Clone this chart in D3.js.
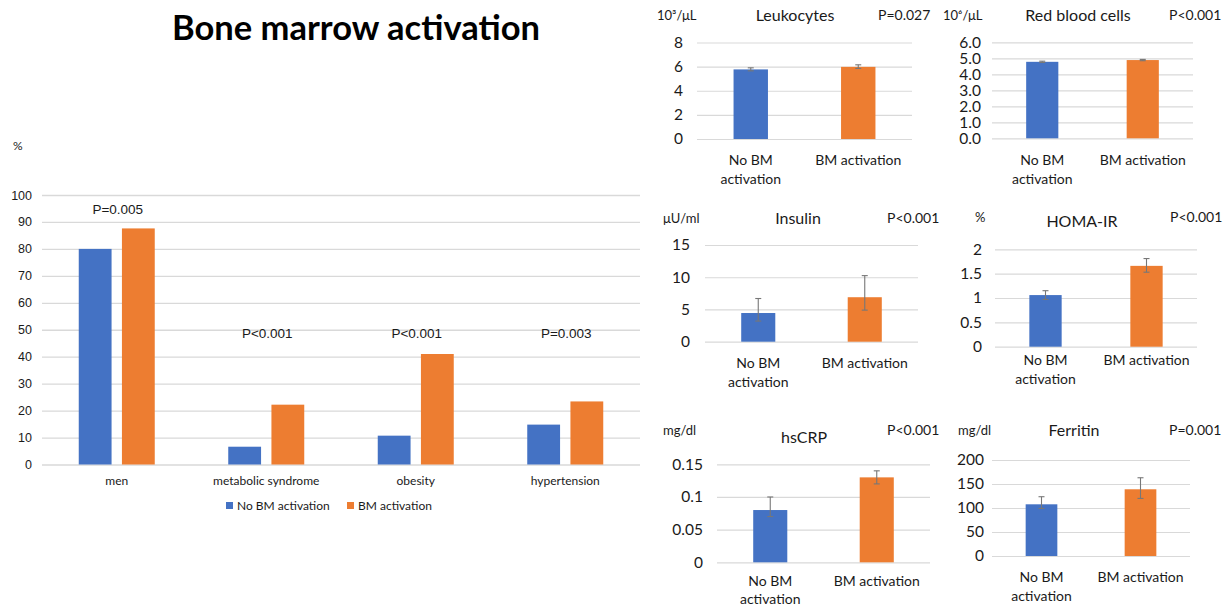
<!DOCTYPE html>
<html>
<head>
<meta charset="utf-8">
<script src="https://cdn.jsdelivr.net/npm/d3@7"></script>
<style>
  body { margin: 0; background: #fff; }
  text { font-family: Lato, "Open Sans", sans-serif; fill: #1a1a1a; }
</style>
</head>
<body>
<svg id="chart" width="1230" height="606"></svg>
<script>
// ---- data ----
var groups = ["No BM activation", "BM activation"];
var colors = ["#4472C4", "#ED7D31"];

// left chart: prevalence (%)
var mainCategories = ["men", "metabolic syndrome", "obesity", "hypertension"];
var mainNoBM = [80, 6.6, 10.7, 14.8];
var mainBM = [87.6, 22.2, 41, 23.4];
var mainPValues = ["P=0.005", "P<0.001", "P<0.001", "P=0.003"];
var mainTicks = [0, 10, 20, 30, 40, 50, 60, 70, 80, 90, 100];

// small panels
var panelTitles = ["Leukocytes", "Red blood cells", "Insulin", "HOMA-IR", "hsCRP", "Ferritin"];
var panelUnits = ["10³/μL", "10⁶/μL", "μU/ml", "%", "mg/dl", "mg/dl"];
var panelP = ["P=0.027", "P<0.001", "P<0.001", "P<0.001", "P<0.001", "P=0.001"];
var panelNoBM = [5.77, 4.78, 4.45, 1.06, 0.08, 107.7];
var panelBM = [5.98, 4.89, 6.9, 1.66, 0.13, 139];
var panelNoBMLow = [5.65, 4.74, 3.2, 0.97, 0.07, 99];
var panelNoBMHigh = [5.9, 4.82, 6.7, 1.15, 0.10, 123.5];
var panelBMLow = [5.85, 4.85, 4.9, 1.53, 0.12, 120];
var panelBMHigh = [6.15, 4.93, 10.25, 1.81, 0.14, 163];
var panelTicks = [
  [0, 2, 4, 6, 8],
  [0, 1, 2, 3, 4, 5, 6],
  [0, 5, 10, 15],
  [0, 0.5, 1, 1.5, 2],
  [0, 0.05, 0.1, 0.15],
  [0, 50, 100, 150, 200]
];
var panelFormats = ["d", ".1f", "d", "~g", "~g", "d"];

// ---- layout ----
var svg = d3.select("#chart");
var gridColor = "#d9d9d9";

svg.append("text")
  .attr("x", 356).attr("y", 40)
  .attr("text-anchor", "middle")
  .style("font-size", "34.5px").style("font-weight", "bold")
  .style("fill", "#000")
  .text("Bone marrow activation");

// ---------- left chart ----------
var m = {left: 42, right: 640, top: 195, bottom: 464.5};
var x0 = d3.scaleBand().domain(mainCategories).range([m.left, m.right]);
var x1 = d3.scaleBand().domain(groups).range([x0.bandwidth() / 2 - 38, x0.bandwidth() / 2 + 38]).paddingInner(0.24);
var y = d3.scaleLinear().domain([0, 100]).range([m.bottom, m.top]);

var left = svg.append("g");
left.append("g")
  .attr("transform", "translate(" + m.left + ",0)")
  .call(d3.axisLeft(y).tickValues(mainTicks).tickSize(-(m.right - m.left)).tickPadding(10))
  .call(function (g) {
    g.select(".domain").remove();
    g.selectAll("line").attr("stroke", gridColor).attr("stroke-width", 1.3);
    g.selectAll("text").style("font-size", "12.5px").style("font-family", "'Liberation Sans', Arial, sans-serif").attr("fill", "#222");
  });

left.append("text").attr("x", 13).attr("y", 150).style("font-size", "12px").text("%");

var mainRows = mainCategories.map(function (c, i) { return {cat: c, vals: [mainNoBM[i], mainBM[i]], p: mainPValues[i]}; });

var catG = left.selectAll("g.cat").data(mainRows).join("g")
  .attr("class", "cat")
  .attr("transform", function (d) { return "translate(" + x0(d.cat) + ",0)"; });

catG.selectAll("rect").data(function (d) { return d.vals.map(function (v, j) { return {g: groups[j], v: v, j: j}; }); })
  .join("rect")
  .attr("x", function (d) { return x1(d.g); })
  .attr("width", x1.bandwidth())
  .attr("y", function (d) { return y(d.v); })
  .attr("height", function (d) { return y(0) - y(d.v); })
  .attr("fill", function (d) { return colors[d.j]; });

catG.append("text")
  .attr("x", x0.bandwidth() / 2 + 1)
  .attr("y", function (d, i) { return i === 0 ? 214 : 338; })
  .attr("text-anchor", "middle")
  .style("font-size", "13.5px").style("font-family", "'Liberation Sans', Arial, sans-serif")
  .text(function (d) { return d.p; });

catG.append("text")
  .attr("x", x0.bandwidth() / 2)
  .attr("y", 485)
  .attr("text-anchor", "middle")
  .style("font-size", "12px")
  .text(function (d) { return d.cat; });

// legend
var legend = left.append("g").attr("transform", "translate(226,505)");
var legX = [0, 121];
groups.forEach(function (gname, j) {
  legend.append("rect").attr("x", legX[j]).attr("y", -3).attr("width", 7).attr("height", 7).attr("fill", colors[j]);
  legend.append("text").attr("x", legX[j] + 11).attr("y", 4.5).style("font-size", "12px").text(gname);
});

// ---------- small panels ----------
var panelLayout = [
  {x: [697, 912], y: [42.5, 139], tickR: 683, unitX: 657, titleX: 795, titleY: 15, pX: 878, headY: 15, labY: 160},
  {x: [992, 1193], y: [42.3, 138.3], tickR: 981, unitX: 943, titleX: 1078, titleY: 15, pX: 1169, headY: 15, labY: 160},
  {x: [705, 918], y: [245, 341.7], tickR: 690, unitX: 663, titleX: 798, titleY: 218, pX: 887, headY: 218, labY: 363},
  {x: [995, 1197], y: [249.3, 346.7], tickR: 982, unitX: 975, titleX: 1082, titleY: 221, pX: 1170, headY: 217, labY: 360},
  {x: [717, 930], y: [464.3, 562.3], tickR: 703, unitX: 663, titleX: 804, titleY: 437, pX: 887, headY: 430, labY: 581},
  {x: [992, 1190], y: [460, 556], tickR: 984, unitX: 958, titleX: 1074, titleY: 430, pX: 1169, headY: 430, labY: 577}
];

panelTitles.forEach(function (title, i) {
  var L = panelLayout[i];
  var g = svg.append("g");
  var ticks = panelTicks[i];
  var py = d3.scaleLinear().domain([0, ticks[ticks.length - 1]]).range([L.y[1], L.y[0]]);
  var px = d3.scaleBand().domain(groups).range(L.x).paddingInner(0.68).paddingOuter(0.34);

  g.append("g")
    .attr("transform", "translate(" + L.x[0] + ",0)")
    .call(d3.axisLeft(py).tickValues(ticks).tickFormat(d3.format(panelFormats[i]))
      .tickSize(-(L.x[1] - L.x[0])).tickPadding(L.x[0] - L.tickR))
    .call(function (a) {
      a.select(".domain").remove();
      a.selectAll("line").attr("stroke", gridColor).attr("stroke-width", 1.2);
      a.selectAll("text").style("font-size", "15.5px").attr("fill", "#222");
    });

  var rows = [
    {g: groups[0], v: panelNoBM[i], lo: panelNoBMLow[i], hi: panelNoBMHigh[i], c: colors[0]},
    {g: groups[1], v: panelBM[i], lo: panelBMLow[i], hi: panelBMHigh[i], c: colors[1]}
  ];

  g.selectAll("rect").data(rows).join("rect")
    .attr("x", function (d) { return px(d.g); })
    .attr("width", px.bandwidth())
    .attr("y", function (d) { return py(d.v); })
    .attr("height", function (d) { return py(0) - py(d.v); })
    .attr("fill", function (d) { return d.c; });

  // error bars
  var eb = g.selectAll("g.err").data(rows).join("g").attr("class", "err")
    .attr("transform", function (d) { return "translate(" + (px(d.g) + px.bandwidth() / 2) + ",0)"; });
  eb.append("line").attr("x1", 0).attr("x2", 0)
    .attr("y1", function (d) { return py(d.lo); }).attr("y2", function (d) { return py(d.hi); });
  eb.append("line").attr("x1", -3).attr("x2", 3)
    .attr("y1", function (d) { return py(d.lo); }).attr("y2", function (d) { return py(d.lo); });
  eb.append("line").attr("x1", -3).attr("x2", 3)
    .attr("y1", function (d) { return py(d.hi); }).attr("y2", function (d) { return py(d.hi); });
  eb.selectAll("line").attr("stroke", "#777").attr("stroke-width", 1.1);

  // category labels
  var lab = g.selectAll("text.lab").data(rows).join("text").attr("class", "lab")
    .attr("text-anchor", "middle")
    .attr("x", function (d) { return px(d.g) + px.bandwidth() / 2; })
    .attr("y", L.labY + 5)
    .style("font-size", "14px");
  lab.each(function (d, j) {
    var t = d3.select(this);
    if (j === 0) {
      t.append("tspan").attr("x", t.attr("x")).text("No BM");
      t.append("tspan").attr("x", t.attr("x")).attr("dy", i === 4 ? 17.5 : 19).text("activation");
    } else {
      t.text(d.g);
    }
  });

  g.append("text").attr("x", L.unitX).attr("y", L.headY + 5).style("font-size", "13px").text(panelUnits[i]);
  g.append("text").attr("x", L.titleX).attr("y", L.titleY + 6).attr("text-anchor", "middle").style("font-size", "16px").text(title);
  g.append("text").attr("x", L.pX).attr("y", L.headY + 5).style("font-size", "14px").text(panelP[i]);
});
</script>
</body>
</html>
